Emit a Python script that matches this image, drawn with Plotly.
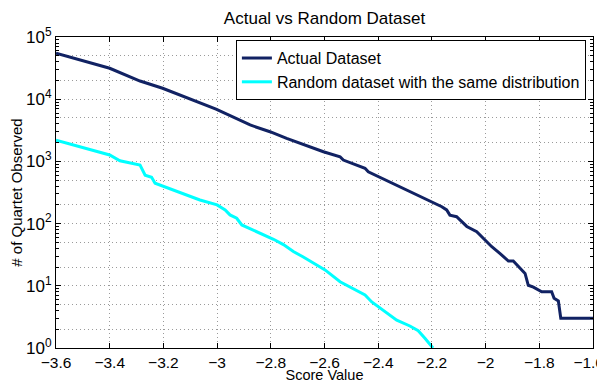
import plotly.graph_objects as go

# ---- data ----
actual_x = [-3.6, -3.4, -3.287, -3.203, -3.004, -2.877, -2.803, -2.741, -2.604, -2.542, -2.53,
            -2.449, -2.437, -2.306, -2.269, -2.201, -2.163, -2.145, -2.133, -2.108, -2.07, -2.033,
            -2.008, -1.977, -1.946, -1.915, -1.897, -1.872, -1.853, -1.841, -1.822, -1.791,
            -1.754, -1.745, -1.729, -1.72, -1.6]
actual_y = [54700, 31400, 19600, 15000, 6950, 3850, 3000, 2340, 1430, 1190, 1050,
            774, 680, 370, 307, 224, 187, 166, 137, 129, 90, 74,
            58, 42.5, 33, 25, 25, 19, 15.8, 10.2, 9.5, 8.0,
            8.0, 6.3, 5.7, 3, 3]

random_x = [-3.6, -3.4, -3.362, -3.287, -3.268, -3.244, -3.231, -3.064, -3.0, -2.97, -2.952,
            -2.927, -2.908, -2.79, -2.753, -2.716, -2.679, -2.617, -2.598, -2.542, -2.474,
            -2.449, -2.424, -2.4, -2.331, -2.282, -2.251, -2.226, -2.201, -2.196]
random_y = [2200, 1270, 1026, 870, 600, 555, 445, 240, 200, 166, 138,
            122, 95, 56, 46, 35.6, 29, 20.6, 18, 11.6, 8,
            7.1, 5.5, 4.6, 2.8, 2.26, 1.9, 1.43, 1.05, 1.0]

x_ticks = [-3.6, -3.4, -3.2, -3.0, -2.8, -2.6, -2.4, -2.2, -2.0, -1.8, -1.6]
x_ticktext = ["\u22123.6", "\u22123.4", "\u22123.2", "\u22123", "\u22122.8", "\u22122.6",
              "\u22122.4", "\u22122.2", "\u22122", "\u22121.8", "\u22121.6"]
y_ticks = [1, 10, 100, 1000, 10000, 100000]
y_ticktext = ["10<sup>0</sup>", "10<sup>1</sup>", "10<sup>2</sup>", "10<sup>3</sup>",
              "10<sup>4</sup>", "10<sup>5</sup>"]
y_minor = [m * 10 ** k for k in range(5) for m in range(2, 10)]
y_extra_grid = [m * 10 ** k for k in range(5) for m in (2, 5)]

FONT = "Liberation Sans, Arial, Helvetica, sans-serif"
NAVY = "#112263"
CYAN = "#00ffff"
GRID = "#9a9a9a"
GRIDDASH = "1px,3px"
XTICK_SIZE = 15.5

# the page body has an 8px margin, so the figure is sized to fit the window from (8, 8)
W, H = 597, 375

fig = go.Figure()
fig.add_trace(go.Scatter(x=actual_x, y=actual_y, mode="lines", name="Actual Dataset",
                         line=dict(color=NAVY, width=3)))
fig.add_trace(go.Scatter(x=random_x, y=random_y, mode="lines",
                         name="Random dataset with the same distribution",
                         line=dict(color=CYAN, width=3)))
# helper invisible trace for the secondary grid axis
fig.add_trace(go.Scatter(x=[-3.6], y=[1], yaxis="y2", mode="lines", showlegend=False,
                         hoverinfo="skip", line=dict(color="rgba(0,0,0,0)")))

# the last x tick label sits at the window edge: pad it on the right so its glyphs shift inward
shown_x_ticktext = x_ticktext[:-1] + [x_ticktext[-1] + "\u00a0\u00a0"]

fig.update_layout(
    width=W, height=H,
    margin=dict(l=48, r=12, t=29, b=35, pad=0),
    paper_bgcolor="white", plot_bgcolor="white",
    font=dict(family=FONT, size=16, color="black"),
    title=dict(text="Actual vs Random Dataset", x=0.5, xref="paper", xanchor="center",
               y=1 - 10 / H, yanchor="middle", font=dict(size=17)),
    xaxis=dict(range=[-3.6, -1.6], tickvals=x_ticks, ticktext=shown_x_ticktext,
               ticks="inside", ticklen=5, tickcolor="black", mirror="ticks",
               showline=True, linecolor="black", linewidth=1,
               showgrid=True, gridcolor=GRID, griddash=GRIDDASH, gridwidth=1,
               zeroline=False, tickfont=dict(size=XTICK_SIZE), ticklabeloverflow="allow",
               title=dict(text="Score Value", standoff=0, font=dict(size=14.5)),
               automargin=False),
    yaxis=dict(type="log", range=[0, 5], tickvals=y_ticks, ticktext=y_ticktext,
               ticks="inside", ticklen=5, tickcolor="black", mirror="ticks",
               showline=True, linecolor="black", linewidth=1,
               showgrid=True, gridcolor=GRID, griddash=GRIDDASH, gridwidth=1,
               zeroline=False, tickfont=dict(size=17), ticklabeloverflow="allow",
               minor=dict(tickvals=y_minor, ticks="inside", ticklen=3, tickcolor="black",
                          showgrid=False),
               title=dict(text="# of Quartet Observed", standoff=12, font=dict(size=15)),
               automargin=False),
    yaxis2=dict(type="log", range=[0, 5], overlaying="y", side="left",
                tickvals=y_extra_grid, showticklabels=False, ticks="",
                showgrid=True, gridcolor=GRID, griddash=GRIDDASH, gridwidth=1,
                zeroline=False, showline=False),
    legend=dict(x=0.335, y=0.99, xanchor="left", yanchor="top",
                bgcolor="white", bordercolor="black", borderwidth=1,
                font=dict(size=16), tracegroupgap=0, itemwidth=30),
    showlegend=True,
)

fig.write_html("out.html")
